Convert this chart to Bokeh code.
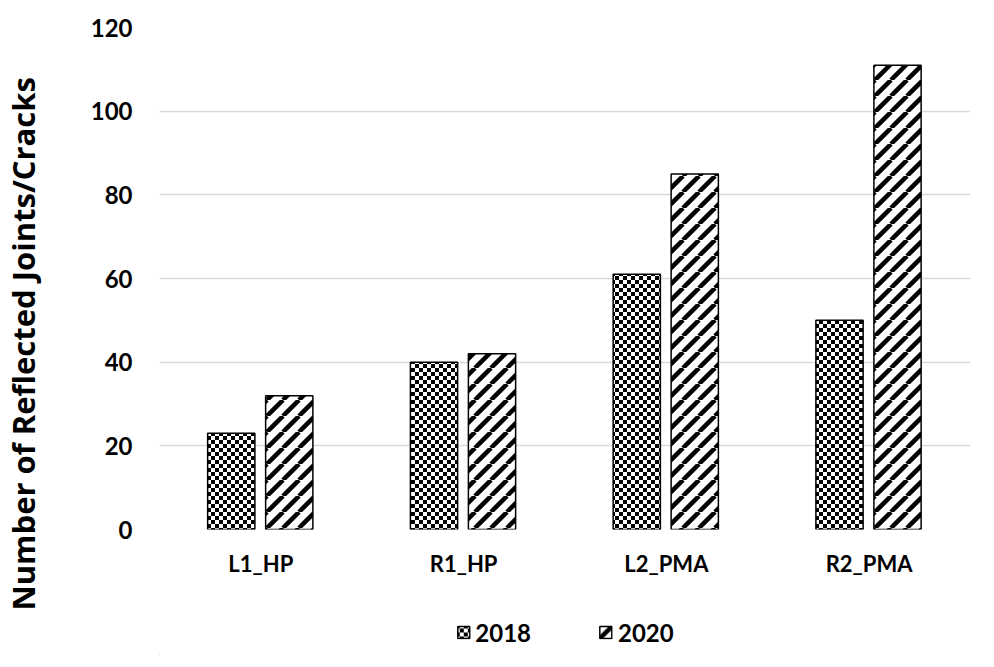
import base64
from bokeh.plotting import figure
from bokeh.layouts import column, row
from bokeh.models import (FactorRange, Range1d, FixedTicker, Legend, LegendItem, ColumnDataSource,
                          ImageURLTexture, Title)
from bokeh.transform import dodge
from bokeh.embed import file_html
from bokeh.resources import INLINE

categories = ["L1_HP", "R1_HP", "L2_PMA", "R2_PMA"]
series_names = ["2018", "2020"]
values_2018 = [23, 40, 61, 50]
values_2020 = [32, 42, 85, 111]
y_ticks = [0, 20, 40, 60, 80, 100, 120]
y_title = "Number of Reflected Joints/Cracks"

FONT = "Lato"


def svg_url(svg):
    return "data:image/svg+xml;base64," + base64.b64encode(svg.encode()).decode()


checker_svg = ('<svg xmlns="http://www.w3.org/2000/svg" width="8" height="8">'
               '<rect width="8" height="8" fill="white"/>'
               '<rect width="4" height="4" fill="black"/>'
               '<rect x="4" y="4" width="4" height="4" fill="black"/></svg>')
stripes_svg = ('<svg xmlns="http://www.w3.org/2000/svg" width="16" height="16">'
               '<rect width="16" height="16" fill="white"/>'
               '<path d="M-16 16 L0 0 M0 16 L16 0 M16 16 L32 0" stroke="black" stroke-width="4.5"/></svg>')

checker = ImageURLTexture(url=svg_url(checker_svg))
stripes = ImageURLTexture(url=svg_url(stripes_svg))

source = ColumnDataSource(data=dict(cat=categories, v2018=values_2018, v2020=values_2020))

style_a = dict(fill_color="white", line_color="black", line_width=1.5,
               hatch_pattern={"value": "checker"}, hatch_extra={"checker": checker})
style_b = dict(fill_color="white", line_color="black", line_width=1.5,
               hatch_pattern={"value": "stripes"}, hatch_extra={"stripes": stripes})

TW = 43  # width of the strip holding the vertical axis title

# vertical axis title strip
tfig = figure(width=TW, height=655, output_backend="svg", toolbar_location=None,
              x_range=Range1d(0, 1), y_range=Range1d(0, 1),
              min_border_left=0, min_border_right=0, min_border_top=0, min_border_bottom=0)
tfig.axis.visible = False
tfig.grid.visible = False
tfig.outline_line_color = None
tfig.add_layout(Title(text=y_title, align="left", offset=45, standoff=0,
                      text_font="Open Sans", text_font_style="bold", text_font_size="31px",
                      text_color="black"), "left")

p = figure(
    x_range=FactorRange(*categories),
    y_range=Range1d(0, 120),
    width=978 - TW, height=592,
    output_backend="svg", toolbar_location=None,
    min_border_left=147 - TW, min_border_right=8, min_border_top=27, min_border_bottom=63,
)
p.x_range.range_padding = 0

r1 = p.vbar(x=dodge("cat", -0.146, range=p.x_range), top="v2018", width=0.233, source=source, **style_a)
r2 = p.vbar(x=dodge("cat", 0.14, range=p.x_range), top="v2020", width=0.233, source=source, **style_b)

p.outline_line_color = None
p.xgrid.grid_line_color = None
p.ygrid.grid_line_color = "#d9d9d9"
p.ygrid.grid_line_width = 1.5
p.yaxis.ticker = FixedTicker(ticks=y_ticks)

for ax in (p.xaxis[0], p.yaxis[0]):
    ax.axis_line_color = None
    ax.major_tick_line_color = None
    ax.minor_tick_line_color = None
    ax.major_label_text_font = FONT
    ax.major_label_text_font_style = "bold"
    ax.major_label_text_color = "black"

p.yaxis.major_label_text_font_size = "24px"
p.yaxis.major_label_standoff = 21
p.xaxis.major_label_text_font_size = "22px"
p.xaxis.major_label_standoff = 14

# legend strip below the chart
lg = figure(width=978 - TW, height=63, output_backend="svg", toolbar_location=None,
            x_range=Range1d(0, 1), y_range=Range1d(0, 1),
            min_border_left=159 - TW, min_border_right=0, min_border_top=17, min_border_bottom=0)
lg.axis.visible = False
lg.grid.visible = False
lg.outline_line_color = None
offscreen = ColumnDataSource(data=dict(x=[-10], top=[-10]))
l1 = lg.vbar(x="x", top="top", width=0.1, source=offscreen, **style_a)
l2 = lg.vbar(x="x", top="top", width=0.1, source=offscreen, **style_b)

legend = Legend(items=[LegendItem(label=series_names[0], renderers=[l1]),
                       LegendItem(label=series_names[1], renderers=[l2])],
                orientation="horizontal", location="center",
                label_text_font=FONT, label_text_font_style="bold", label_text_font_size="24px",
                label_text_color="black",
                glyph_width=15, glyph_height=15, label_standoff=5, spacing=67,
                border_line_color=None, background_fill_alpha=0, padding=0, margin=0)
lg.add_layout(legend, "center")

layout = row(tfig, column(p, lg, spacing=0), spacing=0)
open("out.html", "w").write(file_html(layout, INLINE))
